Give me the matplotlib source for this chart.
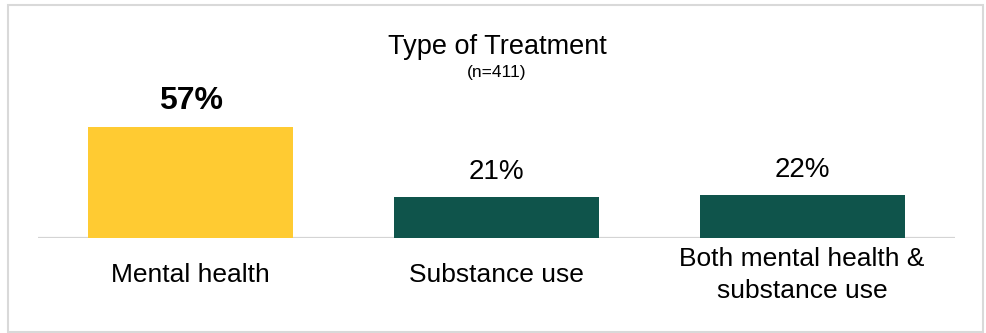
import matplotlib
matplotlib.use("Agg")
import matplotlib.pyplot as plt
from matplotlib.patches import Rectangle

categories = ["Mental health", "Substance use", "Both mental health &\nsubstance use"]
shares = [57, 21, 22]
bar_colors = ["#FFCB32", "#0F544B", "#0F544B"]
title = "Type of Treatment"
subtitle = "(n=411)"

plt.rcParams["font.family"] = ["Liberation Sans", "DejaVu Sans"]

fig = plt.figure(figsize=(9.87, 3.33), dpi=100)
ax = fig.add_axes([38 / 987, 95 / 333, 917 / 987, 195 / 333])

xs = list(range(len(categories)))
bars = ax.bar(xs, shares, width=0.67, color=bar_colors, zorder=2)
ax.set_xlim(-0.5, 2.5)
ax.set_ylim(0, 100)

for s in ax.spines.values():
    s.set_visible(False)
ax.axhline(0, color="#D4D4D4", lw=1.6, zorder=1)
ax.set_xticks([])
ax.set_yticks([])

# value labels; the largest share is called out in bold
top = max(shares)
for x, v in zip(xs, shares):
    big = v == top
    ax.annotate(f"{v}%", xy=(x, v), xytext=(0, 8 if big else 9),
                textcoords="offset points", ha="center", va="bottom",
                fontsize=23 if big else 20,
                fontweight="bold" if big else "normal")

for x, lab in zip(xs, categories):
    ax.annotate(lab, xy=(x, 0), xycoords=("data", "axes fraction"),
                xytext=(0, -26.5), textcoords="offset points",
                ha="center", va="center", fontsize=19, linespacing=1.45)

fig.text(497 / 987, 1 - 47 / 333, title, ha="center", va="center", fontsize=19.5)
fig.text(497 / 987, 1 - 72 / 333, subtitle, ha="center", va="center", fontsize=12.5)

# light frame around the whole chart
fig.patches.append(Rectangle((8 / 987, 1 - 332 / 333), 975 / 987, 327 / 333,
                             transform=fig.transFigure, fill=False,
                             edgecolor="#D9D9D9", lw=1.5))

fig.savefig("out.png", dpi=100)
